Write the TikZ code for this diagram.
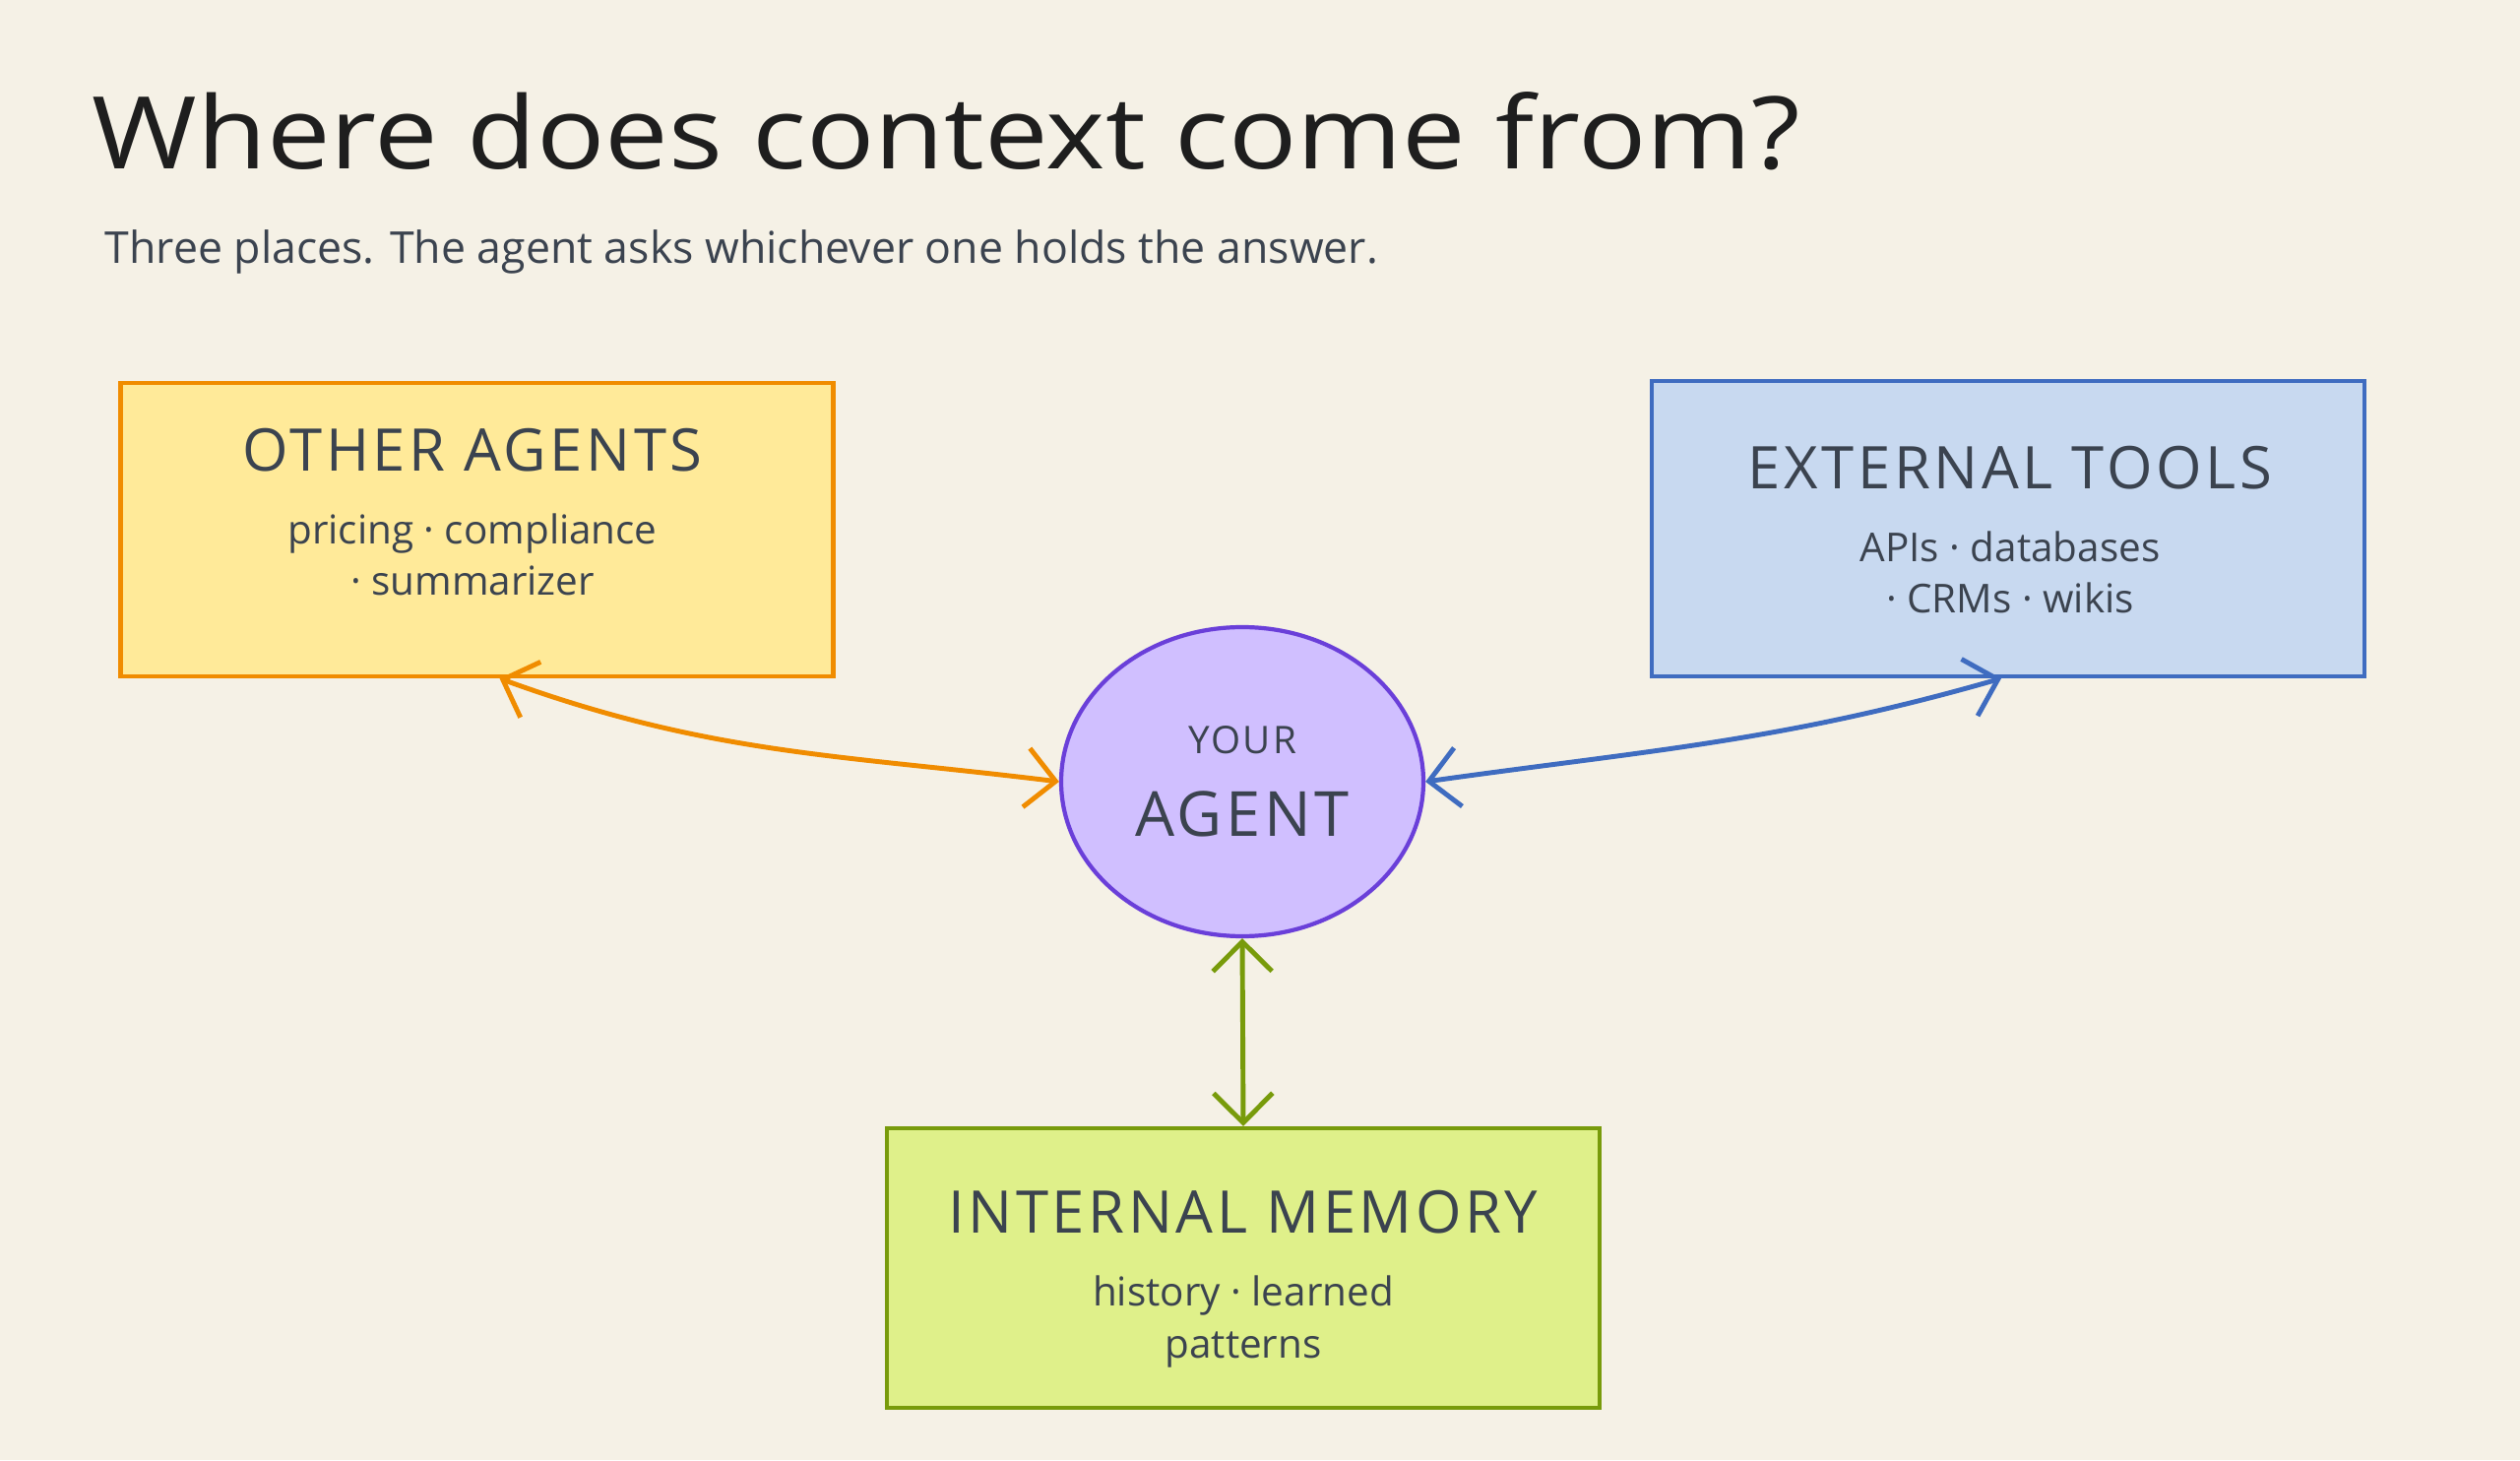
\documentclass[tikz,border=0pt]{standalone}
\usepackage{fontspec}
\setmainfont{Open Sans}
\newfontfamily\capsfont[LetterSpace=6]{Open Sans}
\newfontfamily\titlefont[FakeStretch=1.13]{Open Sans}
\usepackage{tikz}
\usetikzlibrary{arrows.meta}
\usetikzlibrary{shapes.geometric}
\definecolor{bgcream}{HTML}{F5F1E6}
\definecolor{titleink}{HTML}{1E1E1E}
\definecolor{inkgray}{HTML}{3B434F}
\definecolor{yellowfill}{HTML}{FFEA99}
\definecolor{orangeline}{HTML}{F08C00}
\definecolor{bluefill}{HTML}{C8D9F0}
\definecolor{blueline}{HTML}{3F6CC0}
\definecolor{limefill}{HTML}{DFF08A}
\definecolor{greenline}{HTML}{789B0B}
\definecolor{violetfill}{HTML}{D0BFFF}
\definecolor{violetline}{HTML}{6A3FD9}
\tikzset{box/.style = {draw, rectangle, line width = 1.2pt, minimum width = 7.24cm}}
\tikzset{boxtext/.style = {align = center, text = inkgray, inner sep = 0,
                           font = \fontsize{11.5}{15}\selectfont}}
\tikzset{link/.style = {line width = 1.4pt,
                        {Straight Barb[length=3mm, width=6mm]}-{Straight Barb[length=3mm, width=6mm]}}}
\tikzset{heading/.style = {anchor = base west, inner sep = 0}}
\newcommand{\boxtitle}[1]{{\capsfont\fontsize{17}{20}\selectfont #1}\\[6pt]}

\begin{document}
\begin{tikzpicture}
      \fill [bgcream] (0, 0) rectangle (25.6, 14.83);
      \useasboundingbox (0, 0) rectangle (25.6, 14.83);

      \node [heading, text = titleink, font = \titlefont\fontsize{29}{34}\selectfont] (title) at (0.93, 13.11)
            {Where does context come from?};
      \node [heading, text = inkgray, font = \fontsize{12.7}{15}\selectfont] (subtitle) at (1.06, 12.15)
            {Three places. The agent asks whichever one holds the answer.};

      \node [box, draw = orangeline, fill = yellowfill, minimum height = 2.98cm] (other) at (4.845, 9.45) {};
      \node [box, draw = blueline, fill = bluefill, minimum height = 3.0cm] (tools) at (20.40, 9.46) {};
      \node [box, draw = greenline, fill = limefill, minimum height = 2.84cm] (memory) at (12.63, 1.95) {};

      \node [boxtext] (other text) at (4.80, 9.63)
            {\boxtitle{OTHER AGENTS}pricing · compliance\\ · summarizer};
      \node [boxtext] (tools text) at (20.42, 9.45)
            {\boxtitle{EXTERNAL TOOLS}APIs · databases\\ · CRMs · wikis};
      \node [boxtext] (memory text) at (12.63, 1.84)
            {\boxtitle{INTERNAL MEMORY}history · learned\\ patterns};

      \node [ellipse, draw = violetline, fill = violetfill, line width = 1.2pt, inner sep = 0,
             minimum width = 3.68cm, minimum height = 3.14cm, align = center, text = inkgray,
             font = \capsfont\fontsize{18}{21}\selectfont] (agent) at (12.62, 6.89)
            {{\fontsize{11}{13}\selectfont YOUR}\\[3pt]AGENT};

      \draw ([xshift=2.3mm]other.south) edge [link, orangeline, out=-20, in=173] (agent.west);
      \draw ([xshift=-0.7mm]tools.south) edge [link, blueline, out=196, in=8] (agent.east);
      \draw (agent.south) edge [link, greenline] (memory.north);
    \end{tikzpicture}
\end{document}
